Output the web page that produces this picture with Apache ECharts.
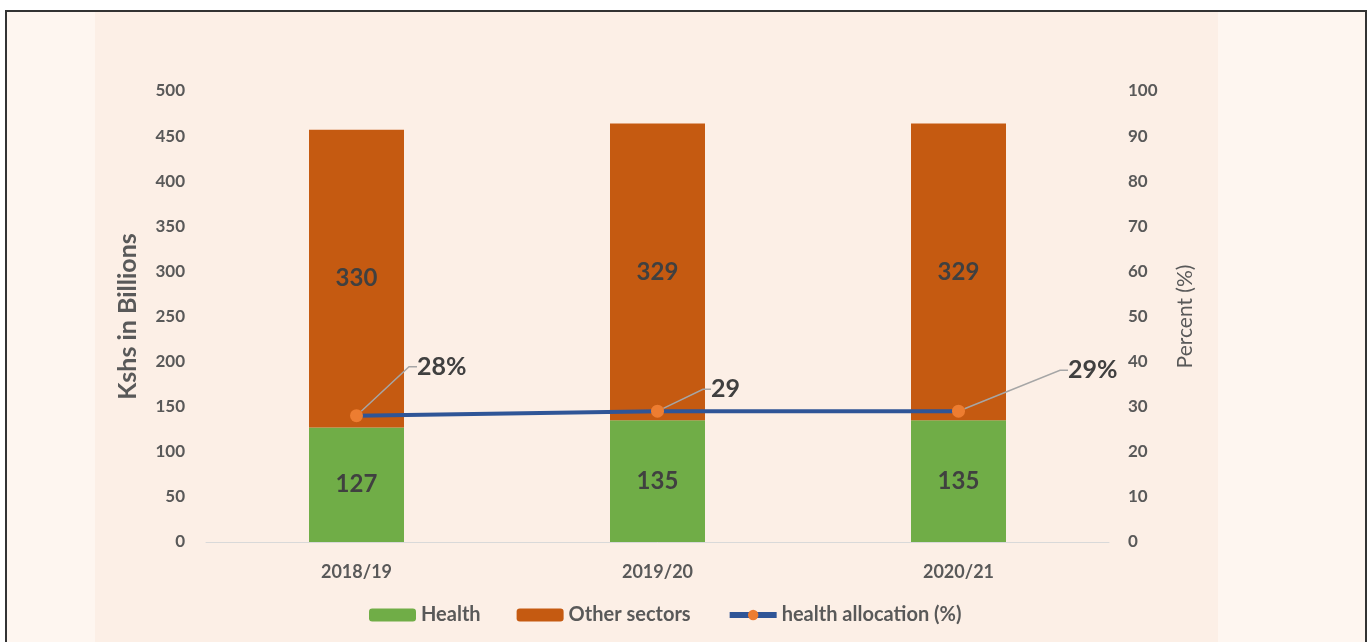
<!DOCTYPE html>
<html>
<head>
<meta charset="utf-8">
<script src="https://cdn.jsdelivr.net/npm/echarts@6/dist/echarts.min.js"></script>
<style>
  html, body { margin: 0; padding: 0; background: #fff; }
  #frame {
    position: absolute; left: 5px; top: 10px; width: 1358px; height: 640px;
    border: 2px solid #333; background: #fef6f0;
  }
  #band { position: absolute; left: 95px; top: 12px; width: 1123px; height: 640px; background: #fcefe6; }
  #chart { position: absolute; left: 0; top: 0; width: 1368px; height: 642px; }
</style>
</head>
<body>
<div id="frame"></div>
<div id="band"></div>
<div id="chart"></div>
<script>
var years = ['2018/19', '2019/20', '2020/21']
var healthValues = [127, 135, 135]
var otherValues = [330, 329, 329]
var allocationPct = [28, 29, 29]
var pctLabels = ['28%', '29', '29%']
// label offsets relative to the default right-hand spot
var pctLabelShift = [[49, -49], [42, -22], [98, -41]]

var font = 'Lato, "Open Sans", sans-serif'
var chart = echarts.init(document.getElementById('chart'))

chart.setOption({
  textStyle: { fontFamily: font },
  animation: false,
  grid: { left: 206, right: 259, top: 91, bottom: 100 },
  legend: {
    bottom: 12,
    left: 364,
    itemWidth: 47,
    itemHeight: 13,
    itemGap: 36,
    lineStyle: { width: 6 },
    textStyle: { color: '#595959', fontSize: 20, fontWeight: 'bold', fontFamily: font },
    data: ['Health', 'Other sectors', 'health allocation (%)']
  },
  xAxis: {
    type: 'category',
    data: years,
    axisTick: { show: false },
    axisLine: { lineStyle: { color: '#d9d9d9', width: 1 } },
    axisLabel: { color: '#595959', fontSize: 18, fontWeight: 'bold', margin: 21 }
  },
  yAxis: [{
    type: 'value',
    min: 0,
    max: 500,
    interval: 50,
    name: 'Kshs in Billions',
    nameLocation: 'middle',
    nameGap: 66,
    nameTextStyle: { color: '#595959', fontSize: 25, fontWeight: 'bold' },
    splitLine: { show: false },
    axisLabel: { color: '#595959', fontSize: 17, fontWeight: 'bold', margin: 21 }
  }, {
    type: 'value',
    min: 0,
    max: 100,
    interval: 10,
    name: 'Percent (%)',
    nameLocation: 'middle',
    nameGap: 66,
    nameTextStyle: { color: '#595959', fontSize: 21 },
    splitLine: { show: false },
    axisLabel: { color: '#595959', fontSize: 17, fontWeight: 'bold', margin: 19 }
  }],
  series: [{
    name: 'Health',
    type: 'bar',
    stack: 'total',
    barWidth: 95,
    data: healthValues,
    itemStyle: { color: '#70ad47' },
    label: { show: true, position: 'inside', color: '#404040', fontSize: 24, fontWeight: 'bold' }
  }, {
    name: 'Other sectors',
    type: 'bar',
    stack: 'total',
    barWidth: 95,
    data: otherValues,
    itemStyle: { color: '#c55a11' },
    label: { show: true, position: 'inside', color: '#404040', fontSize: 24, fontWeight: 'bold' }
  }, {
    name: 'health allocation (%)',
    type: 'line',
    yAxisIndex: 1,
    data: allocationPct,
    symbol: 'circle',
    symbolSize: 13,
    lineStyle: { color: '#2f5597', width: 4 },
    itemStyle: { color: '#ed7d31' },
    label: {
      show: true,
      position: 'right',
      distance: 5,
      color: '#404040',
      fontSize: 25,
      fontWeight: 'bold',
      formatter: function (p) { return pctLabels[p.dataIndex] }
    },
    labelLine: { show: true, length2: 8, lineStyle: { color: '#a6a6a6', width: 1.5 } },
    labelLayout: function (p) {
      return { dx: pctLabelShift[p.dataIndex][0], dy: pctLabelShift[p.dataIndex][1] }
    },
    z: 5
  }]
})
</script>
</body>
</html>
